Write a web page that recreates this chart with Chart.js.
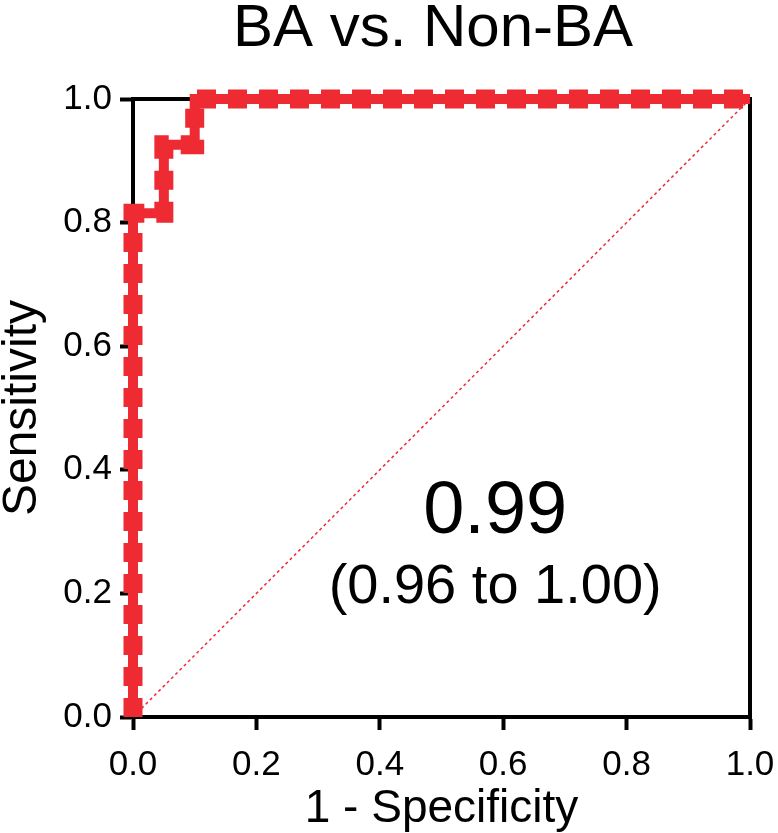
<!DOCTYPE html>
<html>
<head>
<meta charset="utf-8">
<script src="https://cdn.jsdelivr.net/npm/chart.js@4"></script>
<style>
  html, body { margin: 0; padding: 0; background: #fff; }
  #wrap { width: 778px; height: 833px; }
</style>
</head>
<body>
<div id="wrap"><canvas id="rocChart" width="778" height="833"></canvas></div>
<script>
// ROC curve points
const fpr = [0, 0, 0.05, 0.05, 0.1, 0.1, 1];
const tpr = [0, 0.815, 0.815, 0.926, 0.926, 1, 1];
const refLine = [[0, 0], [1, 1]];
const xTicks = [0, 0.2, 0.4, 0.6, 0.8, 1.0];
const yTicks = [0, 0.2, 0.4, 0.6, 0.8, 1.0];
const aucText = "0.99";
const ciText = "(0.96 to 1.00)";
const titleText = "BA vs. Non-BA";

const red = "#ee2a33";
const font = "'Liberation Sans', Arial, sans-serif";

const curve = fpr.map((x, i) => ({ x: x, y: tpr[i] }));

// frame, title and AUC label
const extras = {
  id: "extras",
  beforeDatasetsDraw(chart) {
    const { ctx, chartArea: a } = chart;
    ctx.save();
    ctx.strokeStyle = "#000";
    ctx.lineWidth = 4;
    ctx.beginPath();
    ctx.moveTo(a.left, a.top);
    ctx.lineTo(a.right, a.top);
    ctx.lineTo(a.right, a.bottom + 2);
    ctx.stroke();
    ctx.restore();
  },
  afterDraw(chart) {
    const { ctx } = chart;
    const xs = chart.scales.x, ys = chart.scales.y;
    ctx.save();
    ctx.fillStyle = "#000";
    ctx.textAlign = "center";
    ctx.textBaseline = "middle";
    ctx.font = "60px " + font;
    ctx.fillText(titleText, 433, 29);
    ctx.font = "74px " + font;
    ctx.fillText(aucText, xs.getPixelForValue(0.587), ys.getPixelForValue(0.33));
    ctx.font = "56px " + font;
    ctx.fillText(ciText, xs.getPixelForValue(0.587), ys.getPixelForValue(0.21));
    ctx.restore();
  }
};

new Chart(document.getElementById("rocChart"), {
  type: "line",
  data: {
    datasets: [
      {
        data: refLine.map(p => ({ x: p[0], y: p[1] })),
        borderColor: red,
        borderWidth: 1.5,
        borderDash: [3, 3],
        pointRadius: 0,
        clip: false
      },
      {
        data: curve,
        borderColor: red,
        borderWidth: 10,
        pointRadius: 0,
        borderJoinStyle: "miter",
        clip: false
      },
      {
        data: curve,
        borderColor: red,
        borderWidth: 19,
        borderDash: [19, 12],
        borderCapStyle: "butt",
        borderJoinStyle: "miter",
        pointRadius: 0,
        clip: false
      }
    ]
  },
  options: {
    responsive: false,
    animation: false,
    layout: { padding: { top: 99, right: 28, left: 0, bottom: 0 } },
    plugins: {
      legend: { display: false },
      tooltip: { enabled: false }
    },
    scales: {
      x: {
        type: "linear",
        min: 0,
        max: 1,
        afterBuildTicks: s => { s.ticks = xTicks.map(v => ({ value: v })); },
        afterFit: s => {
          s.height = 116;
          s.paddingLeft = 0;
          s.paddingRight = 0;
        },
        grid: { drawOnChartArea: false, tickLength: 13, tickWidth: 4, color: "#000" },
        border: { color: "#000", width: 4 },
        ticks: {
          color: "#000",
          font: { family: font, size: 35 },
          padding: 14,
          maxRotation: 0,
          callback: v => v.toFixed(1)
        },
        title: {
          display: true,
          text: "1 - Specificity",
          color: "#000",
          font: { family: font, size: 46, lineHeight: 1 },
          padding: { top: 0, bottom: 1 }
        }
      },
      y: {
        type: "linear",
        min: 0,
        max: 1,
        afterBuildTicks: s => { s.ticks = yTicks.map(v => ({ value: v })); },
        afterFit: s => { s.width = 133; },
        grid: { drawOnChartArea: false, tickLength: 13, tickWidth: 4, color: "#000" },
        border: { color: "#000", width: 4 },
        ticks: {
          color: "#000",
          font: { family: font, size: 35 },
          padding: 8,
          callback: v => v.toFixed(1)
        },
        title: {
          display: true,
          text: "Sensitivity",
          color: "#000",
          font: { family: font, size: 48, lineHeight: 1 },
          padding: { top: -1, bottom: 0 }
        }
      }
    }
  },
  plugins: [extras]
});
</script>
</body>
</html>
